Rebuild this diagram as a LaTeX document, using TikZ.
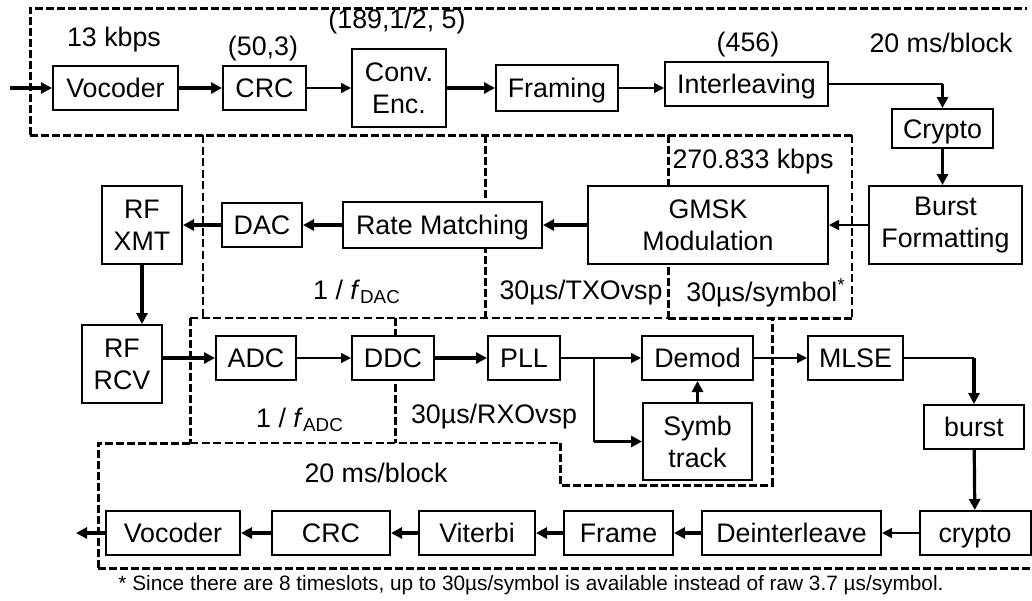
\documentclass[tikz,border=0pt]{standalone}
\usepackage{fontspec}
\setmainfont{Liberation Sans}
\usetikzlibrary{arrows.meta, positioning}

\begin{document}
\begin{tikzpicture}[
  x=0.5pt, y=-0.5pt,
  font=\fontsize{13.4pt}{16pt}\selectfont,
  blk/.style={draw, line width=1pt, fill=white, minimum height=22pt,
              inner sep=1pt, align=center, text height=11.5pt, text depth=2pt},
  tall/.style={draw, line width=1pt, fill=white, minimum height=39pt,
               inner sep=1pt, align=center},
  thk/.style={-{Triangle[length=5.5pt, width=5.5pt]}, line width=1.6pt},
  thn/.style={-{Triangle[length=5pt, width=5pt]}, line width=0.8pt},
  zone/.style={line width=1.5pt, dash pattern=on 4pt off 1.5pt},
  zonethin/.style={line width=0.7pt, dash pattern=on 4pt off 1.8pt},
  note/.style={font=\fontsize{10.4pt}{12pt}\selectfont}
]
  \useasboundingbox (0,0) rectangle (1032,600);

  % clock domains
  \draw[zone] (30,135) -- (30,8) -- (1027,8);
  \draw[zone] (30,135) -- (852,135);
  \draw[zonethin] (203,135) -- (203,318);
  \draw[zone] (485,135) -- (485,318);
  \draw[zone] (668,135) -- (668,318);
  \draw[zonethin] (852,135) -- (852,318);
  \draw[zonethin] (190,318) -- (668,318);
  \draw[zone] (668,318) -- (852,318);
  \draw[zone] (190,318) -- (190,443);
  \draw[zone] (395,318) -- (395,443);
  \draw[zone] (98,568) -- (98,443) -- (190,443);
  \draw[zonethin] (190,443) -- (560,443);
  \draw[zone] (560,443) -- (560,485) -- (772,485) -- (772,318);
  \draw[zone] (98,568) -- (1032,568);

  % transmit chain
  \node[blk, minimum width=62.5pt] (voc)  at (115.5,88) {Vocoder};
  \node[blk, minimum width=41.5pt] (crc)  at (264.5,88) {CRC};
  \node[tall, minimum width=47pt]  (conv) at (399,88)   {Conv.\\Enc.};
  \node[blk, minimum width=61pt, minimum height=23pt] (frm) at (557,88) {Framing};
  \node[blk, minimum width=81.5pt] (intl) at (746.5,84) {Interleaving};
  \node[blk, minimum width=50.5pt, minimum height=19.5pt] (cry) at (942.5,128.5) {Crypto};
  \node[tall, minimum width=76.5pt] (bfmt) at (945.5,225) {Burst\\Formatting};
  \node[tall, minimum width=120pt]  (gmsk) at (708,225)   {GMSK\\Modulation};
  \node[blk, minimum width=99.5pt, minimum height=23pt] (rate) at (442.5,225) {Rate Matching};
  \node[blk, minimum width=40pt]   (dac)  at (262,225)   {DAC};
  \node[tall, minimum width=40pt]  (xmt)  at (142,225)   {RF\\XMT};

  % receive chain
  \node[tall, minimum width=40pt]  (rcv)  at (122,364)   {RF\\RCV};
  \node[blk, minimum width=40pt]   (adc)  at (256,358)   {ADC};
  \node[blk, minimum width=41pt]   (ddc)  at (393,358)   {DDC};
  \node[blk, minimum width=36pt]   (pll)  at (524,358)   {PLL};
  \node[blk, minimum width=55.5pt] (dem)  at (697.5,358) {Demod};
  \node[tall, minimum width=54.5pt, minimum height=38.5pt] (sym) at (697.5,441.5) {Symb\\track};
  \node[blk, minimum width=47.5pt] (mlse) at (855.5,358) {MLSE};
  \node[blk, minimum width=50pt]   (bst)  at (974,427)   {burst};
  \node[blk, minimum width=55.5pt] (cryr) at (975,533)   {crypto};
  \node[blk, minimum width=89.5pt] (dint) at (791.5,533) {Deinterleave};
  \node[blk, minimum width=54.5pt] (frame) at (618.5,533) {Frame};
  \node[blk, minimum width=58pt]   (vit)  at (477,533)   {Viterbi};
  \node[blk, minimum width=59pt]   (crcr) at (331,533)   {CRC};
  \node[blk, minimum width=67pt]   (vocr) at (173,533)   {Vocoder};

  \coordinate (in)  at (10,88);
  \coordinate (out) at (76,533);
  \coordinate (turn1) at (intl.east -| cry.north);
  \coordinate (turn2) at (mlse.east -| bst.north);
  \path (pll.east) ++(33,0) coordinate (split);
  \coordinate (split2) at (split |- sym.west);

  \draw[thk] (in) -- (voc);
  \draw[thk] (voc) -- (crc);
  \draw[thn] (crc) -- (conv);
  \draw[thk] (conv) -- (frm);
  \draw[thn] (frm.east) -- (frm.east -| intl.west);
  \draw[line width=0.8pt] (intl) -- (turn1);
  \draw[thk] (turn1) -- (cry);
  \draw[thk] (cry) -- (cry |- bfmt.north);
  \draw[thn] (bfmt) -- (gmsk);
  \draw[thk] (gmsk) -- (rate);
  \draw[thk] (rate) -- (dac);
  \draw[thk] (dac) -- (xmt);
  \draw[thk] (xmt) -- (xmt |- rcv.north);

  \draw[thk] (rcv.east |- adc.west) -- (adc);
  \draw[thn] (adc) -- (ddc);
  \draw[thk] (ddc) -- (pll);
  \draw[thn] (pll) -- (dem);
  \draw[line width=0.8pt] (split) -- (split2);
  \draw[thk] (split2) -- (sym);
  \draw[thk] (sym) -- (dem);
  \draw[thn] (dem) -- (mlse);
  \draw[line width=0.8pt] (mlse) -- (turn2);
  \draw[thk] (turn2) -- (bst);
  \draw[thk] (bst) -- (cryr);
  \draw[thn] (cryr) -- (dint);
  \draw[thk] (dint) -- (frame);
  \draw[thk] (frame) -- (vit);
  \draw[thk] (vit) -- (crcr);
  \draw[thk] (crcr) -- (vocr);
  \draw[thk] (vocr) -- (out);

  % rates and parameters
  \node (r13)    at (114,40)  {13 kbps};
  \node (crcpar) at (263,49)  {(50,3)};
  \node (cnvpar) at (397,22)  {(189,1/2, 5)};
  \node (ilvpar) at (748,45)  {(456)};
  \node (blktx)  at (941,43)  {20 ms/block};
  \node (r270)   at (753,162) {270.833 kbps};
  \node (fdac)   at (357,292) {1 / \textit{f}\textsubscript{DAC}};
  \node (txovsp) at (581,293) {30µs/TXOvsp};
  \node (symrt)  at (766,293) {30µs/symbol\textsuperscript{*}};
  \node (fadc)   at (300,420) {1 / \textit{f}\textsubscript{ADC}};
  \node (rxovsp) at (494,417) {30µs/RXOvsp};
  \node (blkrx)  at (376,473) {20 ms/block};
  \node[note] (fnote) at (531,585)
        {* Since there are 8 timeslots, up to 30µs/symbol is available instead of raw 3.7 µs/symbol.};
\end{tikzpicture}
\end{document}
